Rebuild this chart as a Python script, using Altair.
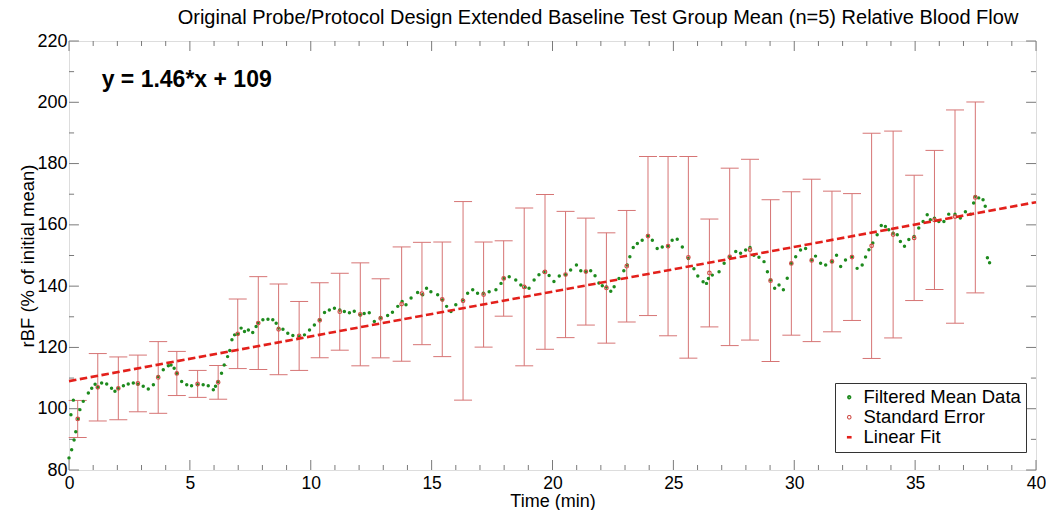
import altair as alt
import pandas as pd

# ---------------- data ----------------
title_text = ["Original Probe/Protocol Design Extended Baseline Test Group Mean (n=5) Relative Blood Flow"]

time_min = [0.00, 0.08, 0.11, 0.18, 0.21, 0.28, 0.38, 0.45, 0.59, 0.80, 0.94, 1.08, 1.19, 1.35, 1.56, 1.76,
            1.90, 2.04, 2.25, 2.45, 2.66, 2.85, 3.07, 3.28, 3.49, 3.69, 3.90, 4.11, 4.22, 4.35, 4.46, 4.66,
            4.87, 5.07, 5.32, 5.55, 5.76, 5.97, 6.06, 6.17, 6.31, 6.42, 6.56, 6.65, 6.74, 6.85, 6.98, 7.12,
            7.26, 7.42, 7.60, 7.74, 7.83, 8.02, 8.23, 8.43, 8.57, 8.67, 8.85, 9.05, 9.26, 9.52, 9.74, 9.95,
            10.15, 10.37, 10.57, 10.77, 10.98, 11.20, 11.39, 11.60, 11.80, 12.05, 12.21, 12.42, 12.63, 12.89,
            13.18, 13.38, 13.60, 13.78, 13.94, 14.15, 14.42, 14.63, 14.79, 14.97, 15.25, 15.45, 15.62, 15.80,
            16.00, 16.28, 16.49, 16.70, 16.90, 17.14, 17.38, 17.66, 17.87, 18.00, 18.21, 18.48, 18.69, 18.87,
            19.03, 19.24, 19.44, 19.65, 19.86, 20.06, 20.28, 20.54, 20.75, 20.99, 21.17, 21.38, 21.58, 21.76,
            21.92, 22.06, 22.23, 22.41, 22.55, 22.75, 22.95, 23.09, 23.20, 23.34, 23.51, 23.71, 23.95, 24.13,
            24.33, 24.54, 24.78, 24.95, 25.16, 25.37, 25.62, 25.85, 26.01, 26.23, 26.37, 26.45, 26.61, 26.89,
            27.10, 27.33, 27.58, 27.78, 27.99, 28.17, 28.33, 28.54, 28.75, 28.89, 29.02, 29.19, 29.37, 29.55,
            29.71, 29.88, 30.06, 30.26, 30.47, 30.72, 30.88, 31.09, 31.30, 31.56, 31.75, 31.92, 32.12, 32.38,
            32.60, 32.81, 32.95, 33.09, 33.25, 33.43, 33.60, 33.77, 33.91, 34.09, 34.26, 34.39, 34.56, 34.74,
            34.96, 35.15, 35.33, 35.50, 35.63, 35.80, 35.98, 36.19, 36.39, 36.65, 36.87, 37.08, 37.29, 37.42,
            37.49, 37.63, 37.81, 37.90, 37.99, 38.08]

rbf_mean = [83.9, 98.0, 86.6, 102.8, 89.8, 92.5, 96.7, 99.7, 102.4, 105.1, 106.7, 108.0, 107.0, 108.4, 108.1, 106.7,
            105.7, 106.7, 107.5, 108.1, 108.4, 108.0, 107.3, 106.4, 107.8, 110.5, 112.7, 114.0, 114.3, 113.2, 111.6, 108.9,
            107.8, 107.5, 107.8, 107.8, 107.5, 106.2, 107.3, 108.9, 111.6, 114.3, 117.0, 119.0, 122.5, 124.1, 124.3, 126.3,
            125.2, 125.7, 124.9, 126.8, 128.1, 129.0, 129.2, 129.0, 127.9, 126.3, 125.9, 124.6, 123.9, 123.5, 124.1, 125.7,
            127.3, 129.0, 131.4, 132.2, 132.8, 132.2, 131.7, 131.3, 131.8, 130.6, 131.1, 131.3, 128.5, 129.8,
            130.4, 131.5, 133.4, 135.0, 133.9, 136.1, 137.9, 137.2, 139.3, 138.2, 137.2, 135.5, 133.4, 131.7,
            133.9, 135.5, 137.7, 138.8, 137.7, 137.7, 138.2, 138.8, 140.9, 142.6, 143.1, 142.0, 140.4, 139.6,
            139.3, 142.0, 143.7, 144.6, 143.5, 141.5, 143.3, 143.7, 145.3, 146.9, 145.0, 144.7, 145.0, 143.4,
            141.0, 140.1, 139.7, 138.3, 139.8, 142.5, 145.0, 146.9, 149.6, 152.6, 153.9, 155.0, 156.5, 155.0,
            152.3, 152.8, 153.1, 155.0, 155.3, 152.8, 149.0, 145.7, 143.3, 141.4, 140.9, 142.5, 143.6, 144.7,
            147.5, 149.6, 151.3, 150.7, 151.8, 152.6, 150.1, 149.4, 148.0, 144.7, 142.0, 139.3, 140.4, 138.8,
            142.6, 147.5, 149.6, 151.8, 152.3, 148.5, 149.8, 147.5, 146.9, 148.0, 150.1, 146.4, 148.5, 149.6,
            145.8, 146.9, 149.5, 151.9, 154.1, 156.8, 159.8, 159.5, 158.4, 157.3, 156.8, 154.6, 153.0, 155.2,
            156.2, 159.0, 161.1, 163.3, 161.7, 162.2, 161.1, 161.1, 163.5, 163.5, 162.2, 164.3, 163.5, 167.1,
            169.3, 168.8, 168.2, 166.1, 149.3, 147.6]

bar_time = [0.36, 1.19, 2.04, 2.85, 3.69, 4.46, 5.32, 6.17, 6.98, 7.83, 8.67, 9.52, 10.37, 11.20, 12.05,
            12.89, 13.76, 14.60, 15.44, 16.30, 17.15, 17.98, 18.83, 19.69, 20.54, 21.38, 22.23, 23.07, 23.95,
            24.78, 25.62, 26.49, 27.33, 28.17, 29.02, 29.88, 30.72, 31.56, 32.39, 33.20, 34.09, 34.96, 35.80,
            36.65, 37.49]
bar_low = [90.6, 96.0, 96.4, 99.0, 98.5, 104.3, 103.7, 103.1, 113.1, 112.8, 111.1, 112.5, 116.6, 119.1, 114.0,
           116.6, 115.5, 120.9, 117.0, 102.8, 120.1, 130.2, 114.0, 119.4, 123.2, 127.3, 121.4, 128.3, 130.4,
           123.8, 116.5, 126.7, 120.6, 122.4, 115.4, 124.0, 121.9, 125.1, 128.8, 116.4, 123.1, 135.3, 138.9,
           127.9, 137.8]
bar_high = [102.7, 118.0, 116.9, 117.5, 121.9, 118.7, 112.5, 114.1, 135.8, 143.1, 140.7, 135.0, 141.1, 144.2, 147.6,
            142.4, 152.8, 154.3, 154.4, 167.6, 154.4, 154.8, 165.5, 169.9, 164.4, 162.2, 157.4, 164.7, 182.3,
            182.3, 182.3, 161.9, 178.5, 181.4, 168.2, 170.8, 174.9, 171.0, 170.2, 189.9, 190.6, 176.2, 184.3,
            197.5, 200.1]

fit_time = [0.0, 40.0]
fit_rbf = [109.0, 167.4]

annot_x = [1.35]
annot_y = [207.3]
annot_text = ["y = 1.46*x + 109"]

series_names = ["Filtered Mean Data", "Standard Error", "Linear Fit"]

x_major = [0, 5, 10, 15, 20, 25, 30, 35, 40]
x_minor = [v for v in range(0, 41) if v % 5 != 0]
y_major = [80, 100, 120, 140, 160, 180, 200, 220]
y_minor = [90, 110, 130, 150, 170, 190, 210]

# ---------------- styling ----------------
FONT = "Liberation Sans"
GREEN = "#1d8a1d"
SE_RED = "#d0504a"
ERR_RED = "#d67474"
FIT_RED = "#e3201b"
FRAME = "#7a7a7a"
W, H = 967, 429

X0, X1, Y0, Y1 = 0, 40, 80, 220

# ---------------- tables ----------------
pts = pd.DataFrame({"t": time_min, "v": rbf_mean})
bars = pd.DataFrame({"t": bar_time, "lo": bar_low, "hi": bar_high})
bars["mid"] = (bars["lo"] + bars["hi"]) / 2
bars["series"] = series_names[1]
fit = pd.DataFrame({"t": fit_time, "v": fit_rbf, "series": series_names[2]})
ann = pd.DataFrame({"x": annot_x, "y": annot_y, "txt": annot_text})
ttl = pd.DataFrame({"txt": title_text})

# inward tick marks (box axes), lengths in data units
LXmaj, LXmin = 3.26, 1.63
LYmaj, LYmin = 0.41, 0.21
vt = []
for v in x_major:
    vt += [(v, Y0, Y0 + LXmaj), (v, Y1, Y1 - LXmaj)]
for v in x_minor:
    vt += [(v, Y0, Y0 + LXmin), (v, Y1, Y1 - LXmin)]
vticks = pd.DataFrame(vt, columns=["t", "a", "b"])
ht = []
for v in y_major:
    ht += [(v, X0, X0 + LYmaj), (v, X1, X1 - LYmaj)]
for v in y_minor:
    ht += [(v, X0, X0 + LYmin), (v, X1, X1 - LYmin)]
hticks = pd.DataFrame(ht, columns=["v", "a", "b"])

xs = alt.Scale(domain=[X0, X1], nice=False, zero=False)
ys = alt.Scale(domain=[Y0, Y1], nice=False, zero=False)

x_axis = alt.Axis(values=x_major, format="d", title="Time (min)", grid=False, ticks=False, domain=False,
                  labelFont=FONT, labelFontSize=17.5, labelColor="black", labelPadding=4,
                  labelFlush=False, labelOverlap=False,
                  titleFont=FONT, titleFontSize=18, titleFontWeight="normal", titleColor="black",
                  titleY=36, titleBaseline="alphabetic")
y_axis = alt.Axis(values=y_major, format="d", title="rBF (% of initial mean)", grid=False, ticks=False,
                  domain=False, labelFont=FONT, labelFontSize=18, labelColor="black", labelPadding=2,
                  labelFlush=False, labelOverlap=False,
                  titleFont=FONT, titleFontSize=18.5, titleFontWeight="normal", titleColor="black",
                  titleX=-42, titleBaseline="middle")

leg = alt.Legend(title=None, orient="none", legendX=766, legendY=342,
                 labelFont=FONT, labelFontSize=18.5, labelColor="black",
                 strokeColor="#333333", fillColor="white", padding=5, rowPadding=1,
                 labelOffset=5, symbolOpacity=1,
                 symbolStrokeWidth={"expr": "datum.value === 'Standard Error' ? 1.1 : 2.6"})

legend_scale = lambda rng: alt.Scale(domain=series_names, range=rng)
color_enc = alt.Color("series:N", scale=legend_scale([GREEN, SE_RED, FIT_RED]), legend=leg)
shape_enc = alt.Shape("series:N", scale=legend_scale(["circle", "circle", "stroke"]), legend=leg)
size_enc = alt.Size("series:N", scale=legend_scale([3, 22, 576]), legend=leg)
dash_enc = alt.StrokeDash("series:N", scale=legend_scale([[1, 0], [1, 0], [7.5, 3.5]]), legend=leg)

X = lambda f: alt.X(f, type="quantitative", scale=xs, axis=x_axis)
Y = lambda f: alt.Y(f, type="quantitative", scale=ys, axis=y_axis)

vrule = alt.Chart(vticks).mark_rule(color=FRAME, strokeWidth=1).encode(x=X("t"), y=Y("a"), y2="b")
hrule = alt.Chart(hticks).mark_rule(color=FRAME, strokeWidth=1).encode(y=Y("v"), x=X("a"), x2="b")
err_rule = alt.Chart(bars).mark_rule(color=ERR_RED, strokeWidth=1).encode(x=X("t"), y=Y("lo"), y2="hi")
cap_lo = alt.Chart(bars).mark_tick(color=ERR_RED, orient="horizontal", size=18, thickness=1,
                                  opacity=1).encode(x=X("t"), y=Y("lo"))
cap_hi = alt.Chart(bars).mark_tick(color=ERR_RED, orient="horizontal", size=18, thickness=1,
                                  opacity=1).encode(x=X("t"), y=Y("hi"))
points = alt.Chart(pts).mark_point(filled=True, shape="circle", size=12, opacity=1,
                                   color=GREEN).encode(x=X("t"), y=Y("v"))
centers = alt.Chart(bars).mark_point(filled=False, opacity=1, strokeWidth=1.2).encode(
    x=X("t"), y=Y("mid"), color=color_enc, shape=shape_enc, size=size_enc)
fit_line = alt.Chart(fit).mark_line(strokeWidth=2.6).encode(
    x=X("t"), y=Y("v"), color=color_enc, strokeDash=dash_enc)
text = alt.Chart(ann).mark_text(align="left", baseline="middle", font=FONT, fontSize=23,
                                fontWeight="bold", color="black").encode(x=X("x"), y=Y("y"), text="txt:N")
title = alt.Chart(ttl).mark_text(align="center", baseline="alphabetic", font=FONT, fontSize=20,
                                 color="black").encode(x=alt.value(529), y=alt.value(-17), text="txt:N")

chart = alt.layer(vrule, hrule, err_rule, cap_lo, cap_hi, points, centers, fit_line, text, title).properties(
    width=W, height=H,
    autosize=alt.AutoSizeParams(type="none"),
    padding={"left": 61, "top": 33, "right": 10, "bottom": 40},
).configure_view(stroke=FRAME, strokeWidth=1).configure(background="white")

chart.save("out.html", embed_options={"renderer": "svg", "actions": False})
